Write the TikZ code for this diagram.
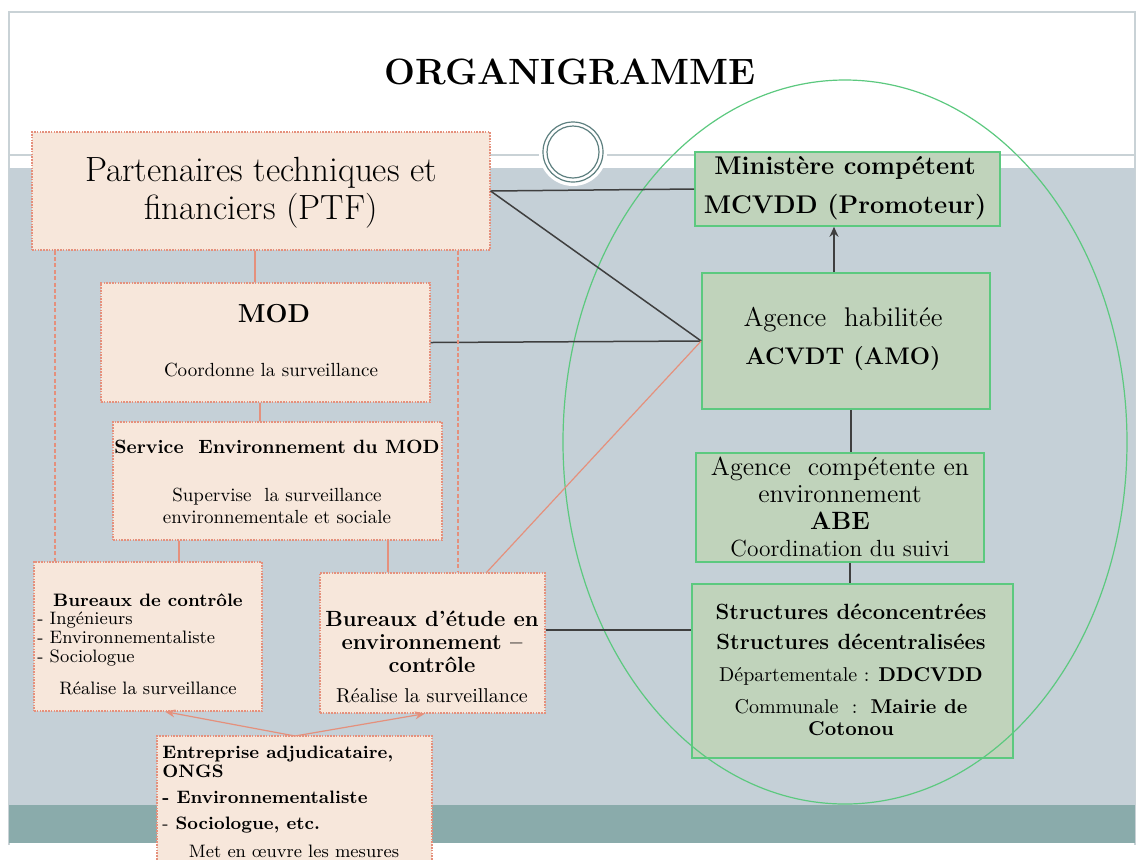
\documentclass[tikz,border=0pt]{standalone}
\usepackage{fontspec}
\usetikzlibrary{arrows.meta,calc}
\definecolor{bandgray}{HTML}{C5D0D7}
\definecolor{bandteal}{HTML}{8AABAB}
\definecolor{framegray}{HTML}{C9D2D6}
\definecolor{peach}{HTML}{F7E7DB}
\definecolor{salmon}{HTML}{E5907C}
\definecolor{greenfill}{HTML}{C0D3BB}
\definecolor{greenline}{HTML}{5CC97F}
\definecolor{darkline}{HTML}{3F3F3F}
\definecolor{ringcol}{HTML}{5E8080}
\begin{document}
\begin{tikzpicture}[x=0.5pt,y=-0.5pt,
  peachbox/.style={draw=salmon, fill=peach, line width=0.6pt, dash pattern=on 0.8pt off 0.6pt, inner sep=0pt},
  greenbox/.style={draw=greenline, fill=greenfill, line width=0.8pt, inner sep=0pt},
  txt/.style={inner sep=0pt, align=center, text=black},
  darkconn/.style={draw=darkline, line width=0.75pt},
  salconn/.style={draw=salmon, line width=0.6pt},
  saldash/.style={draw=salmon, line width=0.6pt, dash pattern=on 2pt off 1.2pt},
  salarrow/.style={draw=salmon, line width=0.6pt, -{Stealth[length=5pt,width=4pt]}},
  darkarrow/.style={draw=darkline, line width=1.2pt, -{Stealth[length=5pt,width=4.5pt]}}]
\useasboundingbox (0,0) rectangle (1141,859);
\fill[white] (0,0) rectangle (1141,859);
% background frame and bands
\draw[framegray, line width=0.8pt] (9,845) -- (9,12) -- (1135,12) -- (1135,845);
\draw[framegray, line width=1.2pt] (9,155) -- (1135,155);
\fill[bandgray] (9,168) rectangle (1135,805);
\fill[bandteal] (9,805) rectangle (1135,843);
% ornament
\fill[white] (573,152) circle[radius=34];
\draw[ringcol, line width=0.6pt] (573,152) circle[radius=30];
\draw[ringcol, line width=0.6pt] (573,152) circle[radius=26];
% title
\node[txt, font=\fontsize{18.3}{22}\selectfont\bfseries] (title) at (570,72) {ORGANIGRAMME};

% peach boxes
\node[peachbox, minimum width=229pt, minimum height=59pt] (ptf) at (261,191) {};
\node[txt, font=\fontsize{17.5}{19}\selectfont] (ptft) at (261,193) {Partenaires techniques et\\financiers (PTF)};

\node[peachbox, minimum width=164.5pt, minimum height=59.5pt] (mod) at (265.5,342.5) {};
\node[txt, font=\fontsize{13}{14}\selectfont\bfseries] (modt1) at (274,314) {MOD};
\node[txt, font=\fontsize{9.5}{11}\selectfont] (modt2) at (271,370) {Coordonne la surveillance};

\node[peachbox, minimum width=164.5pt, minimum height=59pt] (serv) at (277.5,481) {};
\node[txt, font=\fontsize{9.6}{12}\selectfont\bfseries] (servt1) at (277,447) {Service~~Environnement du MOD};
\node[txt, font=\fontsize{9.5}{11}\selectfont] (servt2) at (277,506) {Supervise~~la surveillance\\environnementale et sociale};

\node[peachbox, minimum width=114pt, minimum height=74.5pt] (bdc) at (148,636.5) {};
\node[txt, font=\fontsize{9}{11}\selectfont\bfseries] (bdct1) at (148,600) {Bureaux de contrôle};
\node[txt, anchor=west, align=left, font=\fontsize{9}{9.5}\selectfont] (bdct2) at (37,639) {- Ingénieurs\\- Environnementaliste\\- Sociologue};
\node[txt, font=\fontsize{9}{10}\selectfont] (bdct3) at (148,688) {Réalise la surveillance};

\node[peachbox, minimum width=112.5pt, minimum height=70pt] (bet) at (432.5,643) {};
\node[txt, font=\fontsize{11}{11.5}\selectfont\bfseries] (bett1) at (432,642) {Bureaux d’étude en\\environnement –\\contrôle};
\node[txt, font=\fontsize{10}{11}\selectfont] (bett2) at (432,696) {Réalise la surveillance};

\node[peachbox, minimum width=137.5pt, minimum height=70pt] (ent) at (294.5,806) {};
\node[txt, anchor=west, align=left, font=\fontsize{9}{9.5}\selectfont\bfseries] (entt1) at (162,790) {Entreprise adjudicataire,\\ONGS\\[3.5pt]- Environnementaliste\\[3.5pt]{\mdseries -} Sociologue, etc.};
\node[txt, font=\fontsize{9}{10}\selectfont] (entt2) at (294,851) {Met en œuvre les mesures};

% green boxes
\node[greenbox, minimum width=152.5pt, minimum height=37pt] (min) at (847.5,189) {};
\node[txt, font=\fontsize{12.8}{19.5}\selectfont\bfseries] (mint) at (845,188) {Ministère compétent\\MCVDD (Promoteur)};

\node[greenbox, minimum width=144pt, minimum height=68pt] (amo) at (846,341) {};
\node[txt, font=\fontsize{13.5}{19}\selectfont] (amot) at (843,339) {Agence~~habilitée\\\textbf{\fontsize{12}{19}\selectfont ACVDT (AMO)}};

\node[greenbox, minimum width=144pt, minimum height=54.5pt] (abe) at (840,507.5) {};
\node[txt, font=\fontsize{13}{13.5}\selectfont] (abet) at (840,507) {Agence~~compétente en\\environnement\\\textbf{\fontsize{12.5}{13.5}\selectfont ABE}\\{\fontsize{11.7}{13.5}\selectfont Coordination du suivi}};

\node[greenbox, minimum width=160.5pt, minimum height=87pt] (str) at (852.5,671) {};
\node[txt, font=\fontsize{10}{11}\selectfont] (strt) at (851,670) {{\fontsize{11}{11}\selectfont\bfseries Structures déconcentrées}\\[4pt]{\fontsize{11}{11}\selectfont\bfseries Structures décentralisées}\\[5pt]Départementale : \textbf{DDCVDD}\\[5pt]Communale~~:~~\textbf{Mairie de}\\\textbf{Cotonou}};

% ellipse
\draw[greenline, line width=0.6pt] (845,442) ellipse[x radius=282, y radius=362];

% dark connectors
\draw[darkconn] (ptf.east) -- (min.west);
\draw[darkconn] (ptf.east) -- (amo.west);
\draw[darkconn] (mod.east) -- (amo.west);
\draw[darkconn] (bet.east |- 0,630) -- (str.west |- 0,630);
\draw[darkarrow] (amo.north -| 834,0) -- (min.south -| 834,0);
\draw[darkconn, line width=1pt] (amo.south -| 851,0) -- (abe.north -| 851,0);
\draw[darkconn, line width=1pt] (abe.south -| 850,0) -- (str.north -| 850,0);

% salmon connectors
\coordinate (betnr) at (486,573);
\draw[salconn] (betnr) -- (amo.west);
\draw[salconn] (ptf.south -| 255,0) -- (mod.north -| 255,0);
\draw[salconn] (mod.south -| 260,0) -- (serv.north -| 260,0);
\draw[salconn] (serv.south -| 179,0) -- (bdc.north -| 179,0);
\draw[salconn] (serv.south -| 388,0) -- (bet.north -| 388,0);
\draw[saldash] (ptf.south -| 55,0) -- (bdc.north -| 55,0);
\draw[saldash] (ptf.south -| 458,0) -- (bet.north -| 458,0);
\coordinate (enttop) at (295,736);
\draw[salarrow] (enttop) -- (bdc.south -| 165,0);
\draw[salarrow] (enttop) -- (bet.south -| 425,0);
\end{tikzpicture}
\end{document}
